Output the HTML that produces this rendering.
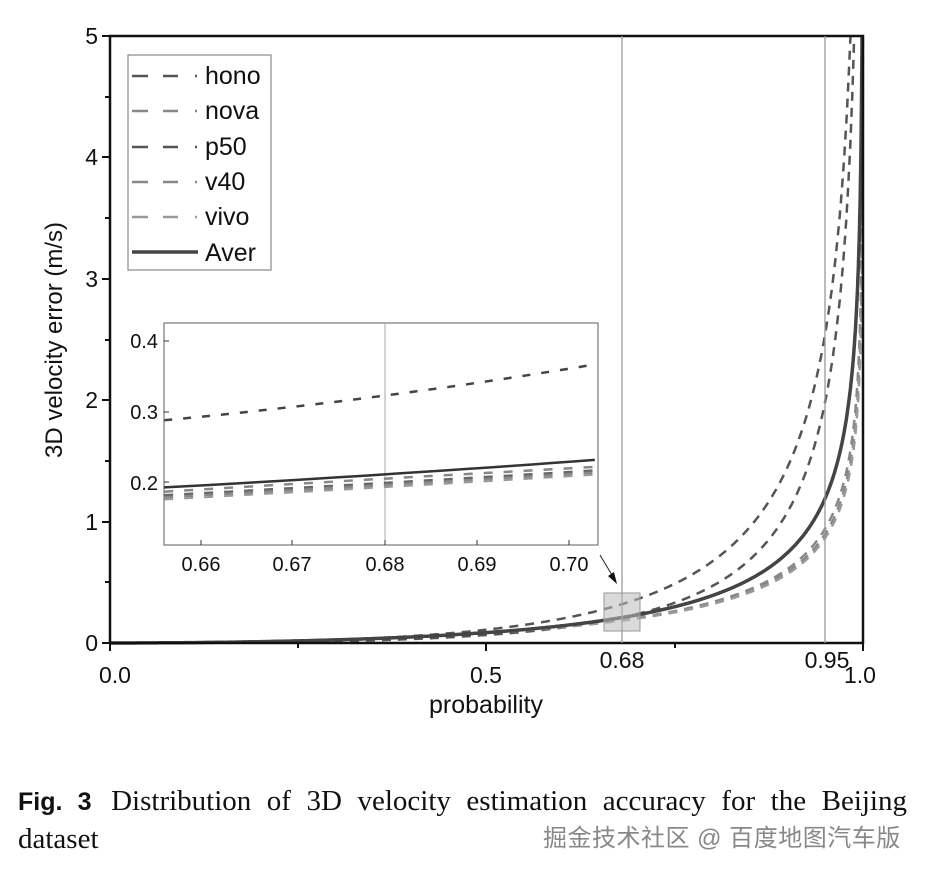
<!DOCTYPE html>
<html><head><meta charset="utf-8"><style>
body{margin:0;background:#fff;width:927px;height:872px;overflow:hidden;position:relative}
svg{position:absolute;left:0;top:0}
.cap{position:absolute;left:18px;top:783px;font-family:"Liberation Serif",serif;font-size:29px;color:#111;line-height:37px;width:889px}
.l1{display:block;text-align:justify;text-align-last:justify}
.cap b{font-family:"Liberation Sans",sans-serif;font-size:25px;margin-right:4px}
.wm{position:absolute;left:543px;top:818px;font-family:"Liberation Sans","Noto Sans CJK SC",sans-serif;font-size:24px;color:#888;letter-spacing:0.5px}
</style></head><body>
<svg width="927" height="872" font-family="Liberation Sans, sans-serif">
<g id="main"></g>
<rect x="110" y="36" width="753" height="607" fill="none" stroke="#111" stroke-width="2.5"/>
<line x1="622" y1="36" x2="622" y2="643" stroke="#999" stroke-width="1.3"/>
<line x1="825" y1="36" x2="825" y2="643" stroke="#999" stroke-width="1.3"/>
<rect x="604" y="593" width="36" height="38" fill="#bbb" fill-opacity="0.55" stroke="#999"/>
<line x1="600" y1="555" x2="615" y2="580" stroke="#222" stroke-width="1"/>
<polygon points="617,584 608,576 614,572" fill="#111"/>
<g fill="#111" font-size="23" text-anchor="end">
<text x="98" y="651">0</text><text x="98" y="530">1</text><text x="98" y="408">2</text><text x="98" y="287">3</text><text x="98" y="165">4</text><text x="98" y="44">5</text>
</g>
<g stroke="#111" stroke-width="2">
<line x1="102" y1="643" x2="110" y2="643"/><line x1="102" y1="522" x2="110" y2="522"/><line x1="102" y1="400" x2="110" y2="400"/><line x1="102" y1="279" x2="110" y2="279"/><line x1="102" y1="157" x2="110" y2="157"/><line x1="102" y1="36" x2="110" y2="36"/>
<line x1="105" y1="582" x2="110" y2="582"/><line x1="105" y1="461" x2="110" y2="461"/><line x1="105" y1="340" x2="110" y2="340"/><line x1="105" y1="218" x2="110" y2="218"/><line x1="105" y1="97" x2="110" y2="97"/>
<line x1="110" y1="643" x2="110" y2="651"/><line x1="486" y1="643" x2="486" y2="651"/><line x1="863" y1="643" x2="863" y2="651"/><line x1="298" y1="643" x2="298" y2="648"/><line x1="675" y1="643" x2="675" y2="648"/>
</g>
<g fill="#111" font-size="23" text-anchor="middle">
<text x="115" y="683">0.0</text><text x="486" y="683">0.5</text><text x="622" y="668">0.68</text><text x="827" y="668">0.95</text><text x="860" y="683">1.0</text>
<text x="486" y="713" font-size="25">probability</text>
<text transform="translate(62,340) rotate(-90)" font-size="24">3D velocity error (m/s)</text>
</g>
<rect x="128" y="55" width="143" height="215" fill="#fff" stroke="#888" stroke-width="1.2"/>
<g font-size="25" fill="#111">
<text x="205" y="84">hono</text><text x="205" y="119">nova</text><text x="205" y="155">p50</text><text x="205" y="190">v40</text><text x="205" y="225">vivo</text><text x="205" y="261">Aver</text>
</g>
<g stroke-width="2.5" stroke-dasharray="16,15,15,17,2,100">
<line x1="132" y1="76" x2="198" y2="76" stroke="#555"/>
<line x1="132" y1="111" x2="198" y2="111" stroke="#888"/>
<line x1="132" y1="147" x2="198" y2="147" stroke="#555"/>
<line x1="132" y1="182" x2="198" y2="182" stroke="#888"/>
<line x1="132" y1="217" x2="198" y2="217" stroke="#999"/>
</g>
<line x1="132" y1="252" x2="198" y2="252" stroke="#444" stroke-width="3.5"/>
<rect x="164" y="323" width="434" height="222" fill="#fff" stroke="#777" stroke-width="1.2"/>
<line x1="385" y1="323" x2="385" y2="545" stroke="#aaa" stroke-width="1"/>
<g id="ins"></g>
<g fill="#111" font-size="20" text-anchor="end">
<text x="158" y="348">0.4</text><text x="158" y="419">0.3</text><text x="158" y="490">0.2</text>
</g>
<g fill="#111" font-size="20" text-anchor="middle">
<text x="201" y="571">0.66</text><text x="292" y="571">0.67</text><text x="385" y="571">0.68</text><text x="477" y="571">0.69</text><text x="569" y="571">0.70</text>
</g>
<g stroke="#333" stroke-width="1">
<line x1="164" y1="341" x2="169" y2="341"/><line x1="164" y1="412" x2="169" y2="412"/><line x1="164" y1="482" x2="169" y2="482"/>
<line x1="201" y1="545" x2="201" y2="540"/><line x1="292" y1="545" x2="292" y2="540"/><line x1="385" y1="545" x2="385" y2="540"/><line x1="477" y1="545" x2="477" y2="540"/><line x1="569" y1="545" x2="569" y2="540"/>
</g>
</svg>
<div class="cap"><span class="l1"><b>Fig. 3</b> Distribution of 3D velocity estimation accuracy for the Beijing</span>dataset</div>
<div class="wm">掘金技术社区 @ 百度地图汽车版</div>
<script>
var L0=-Math.log(0.32);
var S=[["#555",0.32,2.15,"9,7",2.5],["#888",0.19,1.66,"9,7",2.5],["#555",0.21,2.33,"9,7",2.5],["#888",0.188,1.62,"9,7",2.5],["#999",0.185,1.60,"9,7",2.5],["#444",0.21,1.80,"",3.5]];
var g=document.getElementById("main"),h="";
S.forEach(function(s){var d="";for(var i=0;i<=700;i++){var p=1-Math.pow(1-i/700,2)*0.99999;var v=s[1]*Math.pow(-Math.log(1-p)/L0,s[2]);var x=110+p*753,y=643-v*121.4;if(y<36){d+="L"+x.toFixed(1)+",36";break;}d+=(i?"L":"M")+x.toFixed(1)+","+y.toFixed(1);}
h+='<path d="'+d+'" fill="none" stroke="'+s[0]+'" stroke-width="'+s[4]+'" '+(s[3]?'stroke-dasharray="'+s[3]+'"':'')+'/>';});
g.innerHTML=h;
var I=[["#444",0.288,0.322,0.367,"8,11",2.5],["#888",0.187,0.205,0.222,"9,11",2.5],["#666",0.182,0.199,0.217,"9,11",2.5],["#888",0.179,0.196,0.214,"9,11",2.5],["#999",0.176,0.193,0.211,"9,11",2],["#333",0.193,0.211,0.232,"",2.5]];
var h2="";var P0=0.656,P1=0.7028;I.forEach(function(s){var pts=[];for(var i=0;i<=20;i++){var p=P0+i*(P1-P0)/20;var t=(p-P0)/(P1-P0);var v=s[1]*(1-t)*(1-t)+2*t*(1-t)*(2*s[2]-(s[1]+s[3])/2)+t*t*s[3];pts.push((385+(p-0.68)*9200).toFixed(1)+","+(482.5-(v-0.2)*707).toFixed(1));}
h2+='<polyline points="'+pts.join(" ")+'" fill="none" stroke="'+s[0]+'" stroke-width="'+s[5]+'" '+(s[4]?'stroke-dasharray="'+s[4]+'"':'')+'/>';});
document.getElementById("ins").innerHTML=h2;
</script>
</body></html>
